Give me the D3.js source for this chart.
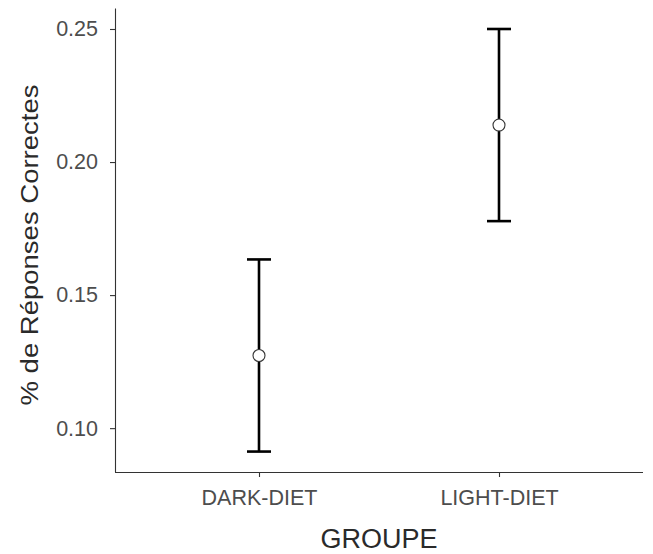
<!DOCTYPE html>
<html>
<head>
<meta charset="utf-8">
<script src="https://cdn.jsdelivr.net/npm/d3@7"></script>
<style>
  html, body { margin: 0; padding: 0; background: #fff; }
  svg { display: block; font-family: "Liberation Sans", Arial, sans-serif; }
</style>
</head>
<body>
<svg id="chart" width="653" height="554"></svg>
<script>
// Group means with their lower / upper error limits
const groups = ["DARK-DIET", "LIGHT-DIET"];
const means = [0.1273, 0.2139];
const lower = [0.0912, 0.1778];
const upper = [0.1634, 0.2500];
const yTicks = [0.10, 0.15, 0.20, 0.25];

const xTitle = "GROUPE";
const yTitle = "% de Réponses Correctes";

const svg = d3.select("#chart");
const plotLeft = 115, plotRight = 643, plotTop = 8, plotBottom = 472;

const x = d3.scalePoint().domain(groups).range([plotLeft, plotRight]).padding(0.6);
const y = d3.scaleLinear().domain([0.08352, 0.25789]).range([plotBottom, plotTop]);

const axisColor = "#333333";
const labelColor = "#4d4d4d";

// y axis
const gy = svg.append("g").attr("transform", `translate(${plotLeft},0)`)
  .call(d3.axisLeft(y).tickValues(yTicks).tickFormat(d3.format(".2f")).tickSize(5).tickPadding(12).tickSizeOuter(0));
gy.select(".domain").attr("stroke", axisColor).attr("stroke-width", 1.1);
gy.selectAll(".tick line").attr("stroke", axisColor).attr("stroke-width", 1.1);
gy.selectAll(".tick text").attr("fill", labelColor).attr("font-size", "21.5px")
  .attr("font-family", "Liberation Sans, Arial, sans-serif");

// x axis
const gx = svg.append("g").attr("transform", `translate(0,${plotBottom})`)
  .call(d3.axisBottom(x).tickSize(5).tickPadding(13).tickSizeOuter(0));
gx.select(".domain").attr("stroke", axisColor).attr("stroke-width", 1.1)
  .attr("d", `M${plotLeft},0.5H${plotRight}`);
gx.selectAll(".tick line").attr("stroke", axisColor).attr("stroke-width", 1.1);
gx.selectAll(".tick text").attr("fill", labelColor).attr("font-size", "21.5px")
  .attr("font-family", "Liberation Sans, Arial, sans-serif");

// axis titles
svg.append("text")
  .attr("x", (plotLeft + plotRight) / 2).attr("y", 548)
  .attr("text-anchor", "middle").attr("font-size", "27px").attr("fill", "#2a2a2a")
  .text(xTitle);
svg.append("text")
  .attr("transform", "translate(37.5,245) rotate(-90) scale(1,0.9)")
  .attr("text-anchor", "middle").attr("font-size", "27.5px").attr("fill", "#2a2a2a")
  .text(yTitle);

// error bars
const data = groups.map((g, i) => ({ g, m: means[i], lo: lower[i], hi: upper[i] }));
const capHalf = 12;
const eb = svg.append("g").attr("stroke", "#000").attr("stroke-width", 2.6).attr("fill", "none");
eb.selectAll("line.v").data(data).join("line").attr("class", "v")
  .attr("x1", d => x(d.g)).attr("x2", d => x(d.g))
  .attr("y1", d => y(d.lo)).attr("y2", d => y(d.hi));
eb.selectAll("line.cap-hi").data(data).join("line").attr("class", "cap-hi")
  .attr("x1", d => x(d.g) - capHalf).attr("x2", d => x(d.g) + capHalf)
  .attr("y1", d => y(d.hi)).attr("y2", d => y(d.hi));
eb.selectAll("line.cap-lo").data(data).join("line").attr("class", "cap-lo")
  .attr("x1", d => x(d.g) - capHalf).attr("x2", d => x(d.g) + capHalf)
  .attr("y1", d => y(d.lo)).attr("y2", d => y(d.lo));

// mean points
svg.append("g").selectAll("circle").data(data).join("circle")
  .attr("cx", d => x(d.g)).attr("cy", d => y(d.m)).attr("r", 6)
  .attr("fill", "#fff").attr("stroke", "#333").attr("stroke-width", 1.1);
</script>
</body>
</html>
